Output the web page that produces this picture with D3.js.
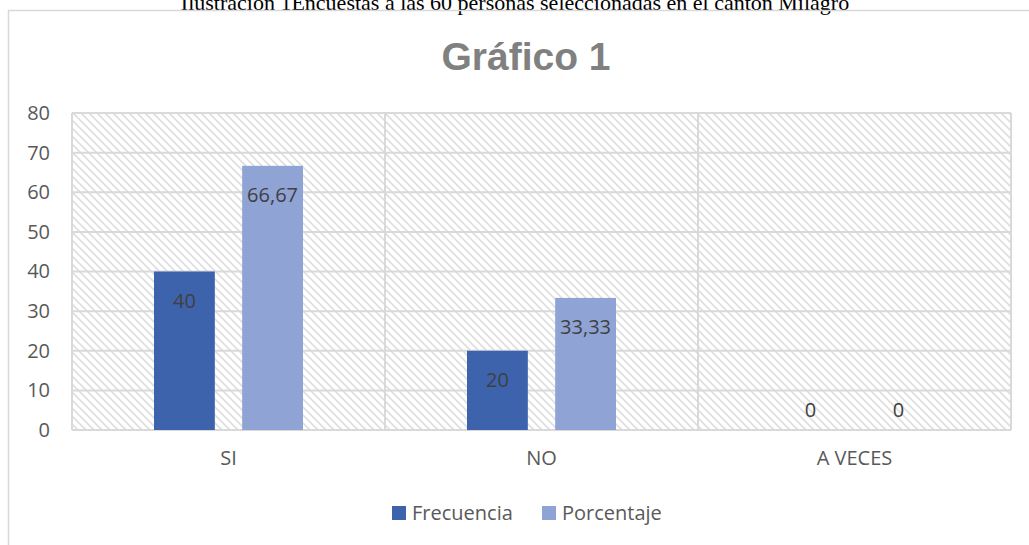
<!DOCTYPE html>
<html lang="es">
<head>
<meta charset="UTF-8">
<title>Gráfico 1</title>
<script src="https://d3js.org/d3.v7.min.js"></script>
<style>
  body { margin: 0; background: #fff; }
</style>
</head>
<body>
<div id="chart"></div>
<script>
    // Datos
    const categories = ["SI", "NO", "A VECES"];
    const seriesNames = ["Frecuencia", "Porcentaje"];
    const frecuencia = [40, 20, 0];
    const porcentaje = [66.67, 33.33, 0];
    const yTicks = [0, 10, 20, 30, 40, 50, 60, 70, 80];

    const colors = { "Frecuencia": "#3d63ad", "Porcentaje": "#8fa3d5" };
    const fmt = v => String(v).replace(".", ",");
    const sans = "'Open Sans', 'Noto Sans', sans-serif";

    const W = 1029, H = 545;
    const plot = { left: 72, right: 1011, top: 113, bottom: 430 };

    const svg = d3.select("#chart").append("svg")
        .attr("width", W)
        .attr("height", H);

    // Hatch pattern for the plot area
    const defs = svg.append("defs");
    const pat = defs.append("pattern")
        .attr("id", "hatch")
        .attr("patternUnits", "userSpaceOnUse")
        .attr("width", 8)
        .attr("height", 8);
    pat.append("rect").attr("width", 8).attr("height", 8).attr("fill", "#fff");
    pat.append("path")
        .attr("d", "M-2,-2 L10,10 M-2,6 L2,10 M6,-2 L10,2")
        .attr("stroke", "#dedede")
        .attr("stroke-width", 1.6);

    // Caption above the chart (cut off at the top, as in the source)
    svg.append("text")
        .attr("x", 515)
        .attr("y", 10)
        .attr("text-anchor", "middle")
        .style("font-family", "'Liberation Serif', 'Times New Roman', serif")
        .style("font-size", "22px")
        .style("fill", "#000")
        .text("Ilustración 1Encuestas a las 60 personas seleccionadas en el cantón Milagro");

    // Chart border
    svg.append("rect")
        .attr("x", 8.5)
        .attr("y", 10.5)
        .attr("width", W + 20)
        .attr("height", H + 20)
        .attr("fill", "none")
        .attr("stroke", "#d9d9d9")
        .attr("stroke-width", 1.5);

    // Title
    svg.append("text")
        .attr("x", 526)
        .attr("y", 70)
        .attr("text-anchor", "middle")
        .style("font-family", "'Liberation Sans', Arial, sans-serif")
        .style("font-weight", "bold")
        .style("font-size", "39px")
        .style("fill", "#808080")
        .text("Gráfico 1");

    // Scales
    const x = d3.scaleBand()
        .domain(categories)
        .range([plot.left, plot.right])
        .padding(0);

    const xs = d3.scaleBand()
        .domain(seriesNames)
        .range([0, x.bandwidth()])
        .paddingInner(0.31)
        .paddingOuter(0.93);

    const y = d3.scaleLinear()
        .domain([0, 80])
        .range([plot.bottom, plot.top]);

    // Plot background
    svg.append("rect")
        .attr("x", plot.left)
        .attr("y", plot.top)
        .attr("width", plot.right - plot.left)
        .attr("height", plot.bottom - plot.top)
        .attr("fill", "url(#hatch)");

    // Horizontal gridlines
    svg.append("g")
        .selectAll("line")
        .data(yTicks)
        .enter().append("line")
        .attr("x1", plot.left)
        .attr("x2", plot.right)
        .attr("y1", d => y(d))
        .attr("y2", d => y(d))
        .attr("stroke", "#d9d9d9")
        .attr("stroke-width", 2);

    // Vertical gridlines at category boundaries
    const vlines = categories.map(c => x(c)).concat([plot.right]);
    svg.append("g")
        .selectAll("line")
        .data(vlines)
        .enter().append("line")
        .attr("x1", d => d)
        .attr("x2", d => d)
        .attr("y1", plot.top)
        .attr("y2", plot.bottom)
        .attr("stroke", "#d9d9d9")
        .attr("stroke-width", 2);

    // Y axis labels
    const yAxis = svg.append("g")
        .attr("transform", "translate(" + plot.left + ",0)")
        .call(d3.axisLeft(y).tickValues(yTicks).tickSize(0).tickPadding(22));
    yAxis.select(".domain").remove();
    yAxis.selectAll("text")
        .style("font-family", sans)
        .style("font-size", "20px")
        .style("fill", "#595959");

    // X axis labels
    const xAxis = svg.append("g")
        .attr("transform", "translate(0," + plot.bottom + ")")
        .call(d3.axisBottom(x).tickSize(0).tickPadding(21));
    xAxis.select(".domain").remove();
    xAxis.selectAll("text")
        .style("font-family", sans)
        .style("font-size", "20px")
        .style("fill", "#595959");

    // Bars
    const rows = categories.map((c, i) => ({
        cat: c,
        values: [
            { name: "Frecuencia", value: frecuencia[i] },
            { name: "Porcentaje", value: porcentaje[i] }
        ]
    }));

    const groups = svg.append("g")
        .selectAll("g")
        .data(rows)
        .enter().append("g")
        .attr("transform", d => "translate(" + x(d.cat) + ",0)");

    groups.selectAll("rect")
        .data(d => d.values)
        .enter().append("rect")
        .attr("x", d => xs(d.name))
        .attr("y", d => y(d.value))
        .attr("width", xs.bandwidth())
        .attr("height", d => y(0) - y(d.value))
        .attr("fill", d => colors[d.name]);

    // Data labels (inside end)
    groups.selectAll("text")
        .data(d => d.values)
        .enter().append("text")
        .attr("x", d => xs(d.name) + xs.bandwidth() / 2)
        .attr("y", d => d.value > 0 ? y(d.value) + 29 : y(0) - 20)
        .attr("dy", "0.35em")
        .attr("text-anchor", "middle")
        .style("font-family", sans)
        .style("font-size", "20px")
        .style("fill", "#404040")
        .text(d => fmt(d.value));

    // Legend
    const legend = svg.append("g");
    const legendX = [392, 542];
    seriesNames.forEach((s, i) => {
        legend.append("rect")
            .attr("x", legendX[i])
            .attr("y", 506)
            .attr("width", 14)
            .attr("height", 14)
            .attr("fill", colors[s]);
        legend.append("text")
            .attr("x", legendX[i] + 20)
            .attr("y", 513)
            .attr("dy", "0.35em")
            .style("font-family", sans)
            .style("font-size", "20px")
            .style("fill", "#595959")
            .text(s);
    });
</script>
</body>
</html>
